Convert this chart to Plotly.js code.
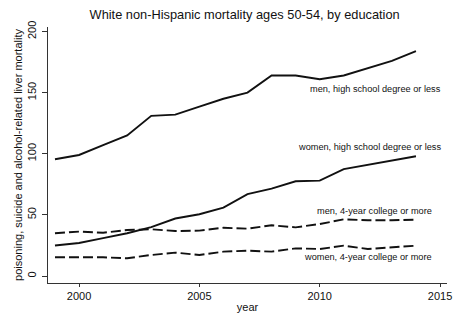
<!DOCTYPE html>
<html>
<head>
<meta charset="utf-8">
<script src="https://cdn.plot.ly/plotly-3.0.1.min.js"></script>
<style>html,body{margin:0;padding:0;background:#fff;}#chart{width:453px;height:316px;}</style>
</head>
<body>
<div id="chart"></div>
<script>
const years = [1999,2000,2001,2002,2003,2004,2005,2006,2007,2008,2009,2010,2011,2012,2013,2014];
const menHS = [95.5,99,107,115,131,132,138.5,145,150,164,164,161,164,170,176,184];
const womenHS = [25,27,31,35,40,47,50.5,56,67,71.5,77.5,78,87.5,91,95,98];
const menCollege = [35,36.3,35.4,37.6,38.2,36.8,37.1,39.5,38.7,41.5,39.8,42.5,46.4,45.6,45.6,46.1];
const womenCollege = [15.3,15.3,15.3,14.5,17.2,19.1,17.2,19.9,20.7,19.9,22.6,22.1,24.8,22.1,23.5,24.8];
const seriesLabels = ["men, high school degree or less","women, high school degree or less","men, 4-year college or more","women, 4-year college or more"];
const labelX = [2015.12,2015.12,2014.74,2014.74];
const labelY = [153,105.5,53.4,15.3];
const xTicks = [2000,2005,2010,2015];
const yTicks = [0,50,100,150,200];

const solid = {color:'#111', width:1.9};
const dashed = {color:'#111', width:1.9, dash:'10px,4px'};
const traces = [
  {x:years, y:menHS, mode:'lines', line:solid, name:seriesLabels[0]},
  {x:years, y:womenHS, mode:'lines', line:solid, name:seriesLabels[1]},
  {x:years, y:menCollege, mode:'lines', line:dashed, name:seriesLabels[2]},
  {x:years, y:womenCollege, mode:'lines', line:dashed, name:seriesLabels[3]}
];
const annotations = seriesLabels.map((t,i)=>({
  x:labelX[i], y:labelY[i], xref:'x', yref:'y', text:t, showarrow:false,
  xanchor:'right', yanchor:'middle',
  font:{family:'Liberation Sans, Arial, sans-serif', size:9.2, color:'#111'}
}));
const layout = {
  width:453, height:316,
  margin:{l:48, r:6, t:27, b:33},
  paper_bgcolor:'#fff', plot_bgcolor:'#fff',
  showlegend:false,
  font:{family:'Liberation Sans, Arial, sans-serif', color:'#111'},
  title:{text:'White non-Hispanic mortality ages 50-54, by education', x:0.54, xanchor:'center', y:0.955, yanchor:'middle', font:{size:12.8, color:'#111'}},
  xaxis:{range:[1998.71,2015.29], tickvals:xTicks, ticktext:xTicks.map(String), showgrid:false, zeroline:false,
    showline:true, linecolor:'#333', linewidth:1, ticks:'outside', ticklen:3, tickcolor:'#333',
    tickfont:{size:11}, title:{text:'year', font:{size:11}, standoff:2}},
  yaxis:{range:[-5.73,203.7], tickvals:yTicks, ticktext:yTicks.map(String), showgrid:false, zeroline:false,
    showline:true, linecolor:'#333', linewidth:1, ticks:'outside', ticklen:5, tickcolor:'#333',
    tickangle:-90, tickfont:{size:11}, ticklabelstandoff:2,
    title:{text:'poisoning, suicide and alcohol-related liver mortality', font:{size:11}, standoff:0}},
  annotations:annotations
};
Plotly.newPlot('chart', traces, layout, {staticPlot:true, displayModeBar:false});
</script>
</body>
</html>
